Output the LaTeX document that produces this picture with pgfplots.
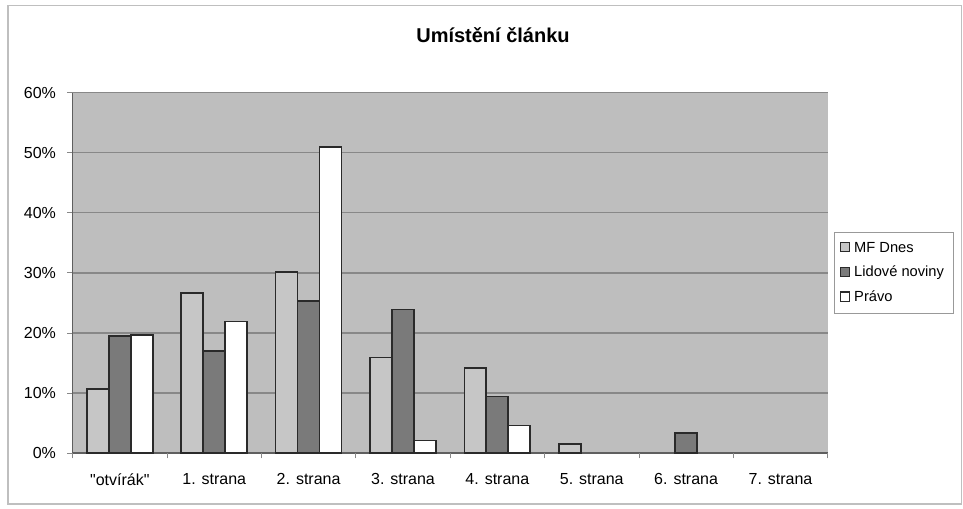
\documentclass[border=0pt]{standalone}
\usepackage{pgfplots}
\pgfplotsset{compat=1.18}
\usepackage{fontspec}
\setmainfont{Liberation Sans}

\definecolor{plotbg}{HTML}{BEBEBE}
\definecolor{mfgray}{HTML}{C6C6C6}
\definecolor{lngray}{HTML}{7A7A7A}
\definecolor{gridgray}{HTML}{888888}
\definecolor{edge}{HTML}{2A2A2A}

\begin{document}
\begin{tikzpicture}
% page 963x508 px, 1px = 0.75pt
\path[use as bounding box] (0,0) rectangle (722.25pt,381pt);
\draw[black!25, line width=0.8pt] (6pt,3pt) rectangle (721pt,377pt);
\node[font=\bfseries\fontsize{15}{17}\selectfont] at (369.75pt,354.75pt) {Umístění článku};

\begin{axis}[
  at={(54.5pt,41.25pt)}, anchor=south west,
  width=566.25pt, height=270.2pt, scale only axis,
  xmin=-0.5, xmax=7.5, ymin=0, ymax=60,
  axis background/.style={fill=plotbg},
  axis lines=left, axis line style={-, draw=gridgray!70!black, line width=0.8pt},
  ytick={0,10,...,60},
  yticklabel={\pgfmathprintnumber{\tick}\%},
  ymajorgrids, grid style={gridgray, line width=1pt},
  tick style={draw=gridgray, line width=0.6pt},
  tick align=outside, major tick length=4pt,
  xtick={0,...,7},
  xticklabels={\textquotedbl otvírák\textquotedbl, 1. strana, 2. strana, 3. strana, 4. strana, 5. strana, 6. strana, 7. strana},
  x tick style={draw=none},
  extra x ticks={-0.5,0.5,...,7.5}, extra x tick labels={},
  extra x tick style={x tick style={draw=gridgray}, grid=none},
  tick label style={font=\fontsize{12}{14}\selectfont},
  yticklabel style={xshift=-5pt},
  xticklabel style={yshift=-8pt},
  /pgf/number format/assume math mode=true,
  ybar, bar width=0.233,
  legend cell align=left,
  legend style={at={(1.009,0.5)}, anchor=west, draw=black!40, fill=white,
    font=\fontsize{11}{13}\selectfont, row sep=5pt, inner xsep=4pt, inner ysep=5pt,
    nodes={inner xsep=3pt}},
  legend image code/.code={\draw[#1, line width=0.8pt] (0cm,-0.1cm) rectangle (0.24cm,0.14cm);},
]
\addplot[fill=mfgray, draw=edge, line width=1.3pt, bar shift=-0.233] coordinates
  {(0,10.7) (1,26.6) (2,30.2) (3,15.9) (4,14.1) (5,1.5)};
\addlegendentry{MF Dnes}
\addplot[fill=lngray, draw=edge, line width=1.3pt, bar shift=0] coordinates
  {(0,19.5) (1,17.0) (2,25.3) (3,23.9) (4,9.4) (6,3.3)};
\addlegendentry{Lidové noviny}
\addplot[fill=white, draw=edge, line width=1.3pt, bar shift=0.233] coordinates
  {(0,19.6) (1,21.9) (2,51.0) (3,2.1) (4,4.6)};
\addlegendentry{Právo}
\end{axis}
\end{tikzpicture}
\end{document}
